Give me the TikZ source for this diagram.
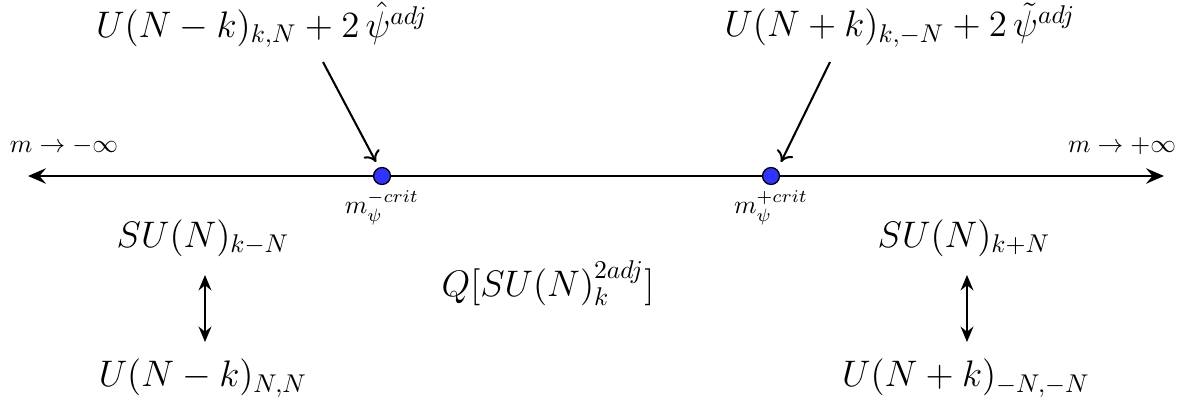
\documentclass[tikz,border=0pt]{standalone}
\usetikzlibrary{arrows.meta}
\begin{document}
\begin{tikzpicture}[x=0.0137cm,y=-0.0137cm,
  big/.style={font=\Large, inner sep=0pt},
  small/.style={inner sep=0pt},
  dot/.style={circle, draw=black, fill=blue!80, minimum size=6.6pt, inner sep=0pt, line width=0.5pt},
  axis/.style={line width=0.8pt, {Stealth[length=7pt,width=6pt,inset=2.5pt]}-{Stealth[length=7pt,width=6pt,inset=2.5pt]}},
  diag/.style={line width=0.8pt, -{To[length=4pt,width=7pt]}},
  dual/.style={line width=0.8pt, {Stealth[length=6pt,width=5pt,inset=2pt]}-{Stealth[length=6pt,width=5pt,inset=2pt]}}]
\useasboundingbox (0,0) rectangle (1185,402);
\coordinate (L) at (28,176);
\coordinate (R) at (1164,176);
\draw[axis] (L) -- (R);
\node[dot] (d1) at (382,176) {};
\node[dot] (d2) at (771,176) {};
\node[small] (minf) at (64,146) {$m\to-\infty$};
\node[small] (pinf) at (1122,146) {$m\to+\infty$};
\node[small] (c1) at (382,208) {$m_\psi^{-crit}$};
\node[small] (c2) at (771,208) {$m_\psi^{+crit}$};
\node[big] (t1) at (262,25) {$U(N-k)_{k,N}+2\,\hat\psi^{adj}$};
\node[big] (t2) at (900,25) {$U(N+k)_{k,-N}+2\,\tilde\psi^{adj}$};
\coordinate (a1) at (323,62);
\coordinate (a2) at (830,62);
\draw[diag] (a1) -- ([shift={(-6,-14)}]d1.center);
\draw[diag] (a2) -- ([shift={(10,-14)}]d2.center);
\node[big] (s1) at (203,238) {$SU(N)_{k-N}$};
\node[big] (u1) at (203,378) {$U(N-k)_{N,N}$};
\node[big] (s2) at (964,238) {$SU(N)_{k+N}$};
\node[big] (u2) at (966,378) {$U(N+k)_{-N,-N}$};
\node[big] (q) at (548,283) {$Q[SU(N)^{2adj}_k]$};
\coordinate (v1a) at (205,275);
\coordinate (v1b) at (205,342);
\coordinate (v2a) at (967,275);
\coordinate (v2b) at (967,342);
\draw[dual] (v1a) -- (v1b);
\draw[dual] (v2a) -- (v2b);
\end{tikzpicture}
\end{document}
